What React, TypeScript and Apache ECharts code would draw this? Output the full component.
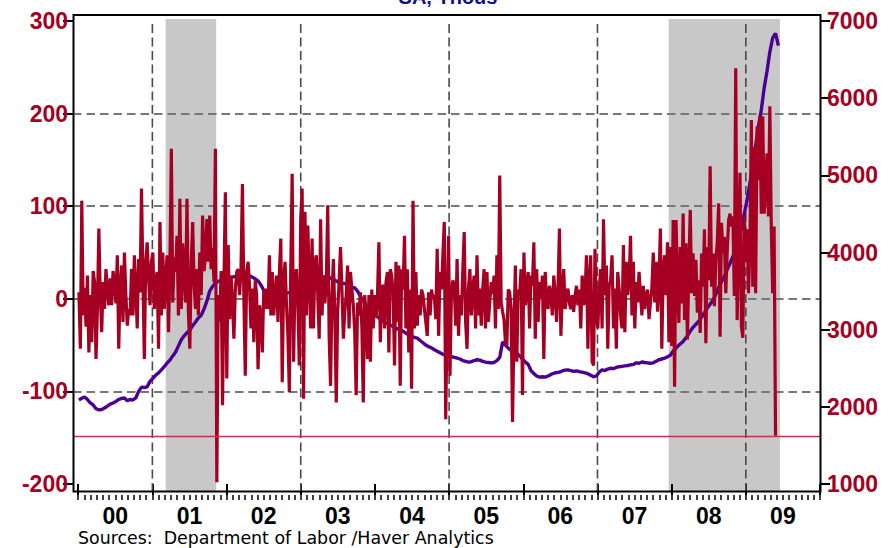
import React, { useEffect, useRef } from 'react';
import * as echarts from 'echarts';

// ---------- texts ----------
const chartTitle = 'SA, Thous';
const sourceNote = 'Sources:  Department of Labor /Haver Analytics';
const yearLabels = ['00', '01', '02', '03', '04', '05', '06', '07', '08', '09'];

// ---------- time frame ----------
const xMin = 1999.93;
const xMax = 2010;
const firstWeek = 2000.01;
const weeksPerYear = 52.18;
const continuingStepWeeks = 2;
const monthsShown = 120;

// ---------- axes ----------
const leftMin = -200;
const leftMax = 300;
const leftStep = 100;
const rightMin = 1000;
const rightMax = 7000;
const rightStep = 1000;

// ---------- markers ----------
const recessions = [
  [2001.18, 2001.86],
  [2007.96, 2009.46],
];
const dividerYears = [2001, 2003, 2005, 2007, 2009];
const latestChange = -148;

// ---------- weekly change, thous (left axis) ----------
const change2000 = [7, -54, 106, -18, 12, -30, 25, -58, 4, -47, 30, 18, -65, -11, 76, 5, -36, 18, -11, 32, 10, -7, 22, -7, 30, 18, -5, 47, -54, 14, 36, -25, 50, 5, -29, -11, -18, 32, -18, 47, 10, -32, 43, 7, 119, 25, -65, 40, 61, 22, -7, 40];
const change2001 = [50, -11, 20, 29, -54, 83, -18, 50, -11, 20, 47, -36, 36, 162, -4, 45, 29, 68, -18, 108, -11, 60, 25, -4, 108, -14, -54, 40, 83, 15, -11, 32, -18, 50, 4, 90, 30, 47, 86, 40, 90, 32, 55, 18, 162, -198, 4, -25, 30, -115, 18, 115];
const change2002 = [-86, 58, -22, 25, -4, -43, 10, 29, 32, 4, 32, 124, 4, -83, 29, 40, 14, -32, 11, -47, 20, 4, -76, -7, -18, -58, 10, -11, 11, -11, 47, -18, 29, -18, 5, 25, -25, 29, 65, -90, 20, 40, -7, -40, -101, 32, 135, -68, 20, 32, -7, -72];
const change2003 = [86, 119, -108, 94, -18, 79, 20, -32, 65, -32, 40, 47, 5, -43, 86, -18, 25, -5, 18, 101, -40, -94, 4, 43, -18, -112, -14, 18, 56, 10, -43, -14, 4, 36, -32, 29, 10, -7, -36, -104, -4, -18, 7, -30, -112, 4, -18, -65, 4, -68, 10, -32];
const change2004 = [4, -20, 4, 61, -47, 11, 15, -32, 18, 29, -58, 32, 25, 5, -72, 40, -25, 36, -94, 32, 10, 68, -32, 32, -58, 10, -97, 106, -32, 29, -29, 4, -18, 10, 4, -11, -25, -40, 7, -18, 10, 0, 4, -22, 54, -40, 29, 10, 47, 83, -130, -18];
const change2005 = [68, -83, 4, 20, 14, -29, 43, -40, 4, -18, 30, 72, -25, -54, 11, 32, -18, 10, 25, -32, 47, -18, 11, -29, 10, 32, -32, 29, -25, -4, 18, 5, 25, -32, 47, -11, 133, -4, -14, -22, -47, -50, 10, 7, -11, -133, -32, 36, -68, 10, 4, 32];
const change2006 = [-104, 50, -7, 10, 29, -32, 25, 14, 61, -43, 32, -25, 18, 0, 25, -65, 29, -4, -11, 14, 5, -18, 25, 7, -25, 10, 76, -40, 4, 32, -11, 4, 11, -5, -11, 4, -14, 4, 14, -7, 10, -32, 25, -7, 4, 47, -54, 20, 47, -68, -72, 54];
const change2007 = [-18, -32, 10, 32, -32, 86, 4, 36, -54, 14, 20, 47, -32, 11, -54, 29, 10, -18, -32, 58, -36, 40, 4, 20, 68, -18, 40, -32, 18, -4, 29, 5, -18, 14, -11, 4, 10, -22, -4, 11, 50, -4, 40, -14, 20, 76, -54, 32, 47, 4, 61, -47];
const change2008 = [56, -51, 85, -95, 85, 20, -26, 56, -5, 92, -23, 60, -44, 30, 96, 6, 49, 3, 42, -15, 20, -37, 49, 13, 75, -48, 56, 20, 143, 13, 49, -8, 42, 60, 103, -41, 82, 49, 67, 6, 50, 85, 92, 78, 89, 3, 249, -23, 60, 136, -30, -42];
const change2009 = [89, 40, 75, 6, 60, 193, 13, 164, 6, 186, 128, 197, 92, 197, 92, 120, 157, 89, 208, 78, 6, 78, -148];

// ---------- continuing claims level, thous (right axis), every 2 weeks ----------
const level2000 = [2090, 2110, 2128, 2095, 2050, 2024, 1975, 1960, 1965, 1985, 2010, 2035, 2050, 2070, 2095, 2110, 2115, 2080, 2095, 2089, 2115, 2200, 2255, 2250, 2260, 2330];
const level2001 = [2370, 2410, 2440, 2480, 2520, 2568, 2605, 2660, 2710, 2790, 2870, 2920, 2960, 2995, 3050, 3100, 3150, 3185, 3270, 3370, 3500, 3560, 3605, 3625, 3640, 3650];
const level2002 = [3660, 3670, 3680, 3690, 3700, 3705, 3715, 3710, 3700, 3680, 3660, 3630, 3580, 3510, 3470, 3460, 3465, 3470, 3460, 3450, 3460, 3475, 3480, 3470, 3490, 3500];
const level2003 = [3510, 3520, 3540, 3560, 3590, 3610, 3640, 3660, 3680, 3690, 3680, 3660, 3640, 3620, 3605, 3600, 3590, 3570, 3550, 3540, 3500, 3430, 3370, 3310, 3270, 3230];
const level2004 = [3200, 3165, 3140, 3110, 3090, 3070, 3050, 3030, 3010, 2996, 2980, 2955, 2935, 2915, 2900, 2890, 2860, 2830, 2800, 2780, 2765, 2740, 2720, 2700, 2680, 2670];
const level2005 = [2660, 2650, 2640, 2633, 2620, 2600, 2590, 2580, 2585, 2600, 2610, 2605, 2590, 2580, 2575, 2570, 2575, 2600, 2640, 2840, 2800, 2760, 2730, 2700, 2690, 2660];
const level2006 = [2620, 2580, 2550, 2470, 2430, 2400, 2385, 2390, 2385, 2400, 2420, 2435, 2445, 2450, 2465, 2475, 2478, 2470, 2460, 2465, 2455, 2450, 2440, 2430, 2410, 2390];
const level2007 = [2400, 2450, 2480, 2470, 2490, 2500, 2495, 2510, 2520, 2525, 2530, 2535, 2545, 2550, 2570, 2565, 2581, 2575, 2570, 2565, 2570, 2590, 2610, 2620, 2630, 2650];
const level2008 = [2670, 2720, 2760, 2800, 2830, 2870, 2920, 2980, 3030, 3070, 3110, 3160, 3220, 3280, 3330, 3385, 3460, 3550, 3620, 3690, 3780, 3860, 3950, 4050, 4170, 4320];
const level2009 = [4500, 4680, 4900, 5120, 5380, 5640, 5850, 6130, 6350, 6600, 6780, 6840, 6680];

const weeklyChange = [
  ...change2000, ...change2001, ...change2002, ...change2003, ...change2004,
  ...change2005, ...change2006, ...change2007, ...change2008, ...change2009,
];
const continuingLevel = [
  ...level2000, ...level2001, ...level2002, ...level2003, ...level2004,
  ...level2005, ...level2006, ...level2007, ...level2008, ...level2009,
];

const RED = '#a50021';
const PURPLE = '#4b0092';
const AXIS_FONT = 'Liberation Sans';

export default function App() {
  const ref = useRef<HTMLDivElement>(null);

  useEffect(() => {
    if (!ref.current) return;
    const chart = echarts.init(ref.current, null, { renderer: 'svg' });

    const changeData = weeklyChange.map((v, i) => [firstWeek + i / weeksPerYear, v]);
    const levelData = continuingLevel.map((v, k) => [
      firstWeek + (k * continuingStepWeeks) / weeksPerYear,
      v,
    ]);

    const yLabel = {
      color: RED,
      fontSize: 23,
      fontWeight: 'bold',
      fontFamily: AXIS_FONT,
      formatter: (v: number) => String(v),
    };

    const option: any = {
      animation: false,
      backgroundColor: '#ffffff',
      textStyle: { fontFamily: AXIS_FONT },
      grid: [
        { left: 73, right: 75, top: 21, bottom: 64 },
        { left: 78.2, right: 75, top: 21, bottom: 64 },
      ],
      xAxis: [
        { type: 'value', gridIndex: 0, min: xMin, max: xMax, show: false },
        {
          type: 'category',
          gridIndex: 1,
          data: yearLabels,
          boundaryGap: true,
          position: 'bottom',
          offset: 11,
          axisLine: { show: false },
          axisTick: { show: true, interval: 0, length: 11, lineStyle: { color: '#000', width: 2 } },
          axisLabel: {
            interval: 0,
            margin: 9,
            color: '#000',
            fontSize: 23,
            fontWeight: 'bold',
            fontFamily: AXIS_FONT,
          },
          splitLine: { show: false },
        },
        {
          type: 'value',
          gridIndex: 1,
          min: 0,
          max: monthsShown,
          interval: 1,
          position: 'bottom',
          offset: 11,
          axisLine: { show: false },
          axisTick: { show: true, length: 5, lineStyle: { color: '#000', width: 1.5 } },
          axisLabel: { show: false },
          splitLine: { show: false },
        },
      ],
      yAxis: [
        {
          type: 'value',
          gridIndex: 0,
          min: leftMin,
          max: leftMax,
          interval: leftStep,
          position: 'left',
          axisLine: { show: false },
          axisTick: { show: true, length: 10, lineStyle: { color: '#000', width: 2 } },
          axisLabel: { ...yLabel, margin: 5 },
          splitLine: {
            show: true,
            showMinLine: false,
            showMaxLine: false,
            lineStyle: { color: '#777777', width: 2, type: [8.5, 5] },
          },
        },
        {
          type: 'value',
          gridIndex: 0,
          min: rightMin,
          max: rightMax,
          interval: rightStep,
          position: 'right',
          axisLine: { show: false },
          axisTick: { show: true, length: 10, lineStyle: { color: '#000', width: 2 } },
          axisLabel: { ...yLabel, margin: 7 },
          splitLine: { show: false },
        },
        { type: 'value', gridIndex: 1, min: 0, max: 1, show: false },
      ],
      series: [
        {
          name: 'Continuing claims',
          type: 'line',
          xAxisIndex: 0,
          yAxisIndex: 1,
          data: levelData,
          showSymbol: false,
          symbol: 'none',
          silent: true,
          lineStyle: { color: PURPLE, width: 3.4 },
          z: 2,
        },
        {
          name: 'Weekly change',
          type: 'line',
          xAxisIndex: 0,
          yAxisIndex: 0,
          data: changeData,
          showSymbol: false,
          symbol: 'none',
          silent: true,
          lineStyle: { color: RED, width: 3.2 },
          z: 3,
          markLine: {
            silent: true,
            symbol: ['none', 'none'],
            label: { show: false },
            lineStyle: { color: '#c2334f', width: 1.3, type: 'solid' },
            data: [{ yAxis: latestChange }],
          },
        },
      ],
    };

    chart.setOption(option);

    const px = (v: number) => chart.convertToPixel({ xAxisIndex: 0 }, v) as number;
    const graphics: any[] = [];
    recessions.forEach(([a, b]) => {
      const x0 = px(a);
      const x1 = px(b);
      graphics.push({
        type: 'rect',
        z: -1,
        silent: true,
        shape: { x: x0, y: 19, width: x1 - x0, height: 491 - 19 },
        style: { fill: '#c8c8c8' },
      });
    });
    dividerYears.forEach((yr) => {
      const x = px(yr);
      graphics.push({
        type: 'line',
        z: 1,
        silent: true,
        shape: { x1: x, y1: 24, x2: x, y2: 491 },
        style: { stroke: '#4a4a4a', lineWidth: 1.6, lineDash: [9, 4.5] },
      });
    });
    graphics.push({
      type: 'rect',
      z: 10,
      silent: true,
      shape: { x: 73.5, y: 15, width: 747, height: 476.5 },
      style: { fill: 'none', stroke: '#000', lineWidth: 2 },
    });
    graphics.push({
      type: 'text',
      z: 10,
      silent: true,
      x: 448,
      y: -3.4,
      style: {
        text: chartTitle,
        fill: '#10108c',
        fontSize: 20,
        fontWeight: 'bold',
        fontFamily: AXIS_FONT,
        align: 'center',
        verticalAlign: 'middle',
      },
    });
    graphics.push({
      type: 'text',
      z: 10,
      silent: true,
      x: 78,
      y: 538,
      style: {
        text: sourceNote,
        fill: '#000',
        fontSize: 17.4,
        fontFamily: 'DejaVu Sans',
        align: 'left',
        verticalAlign: 'middle',
      },
    });
    chart.setOption({ graphic: graphics });

    return () => chart.dispose();
  }, []);

  return (
    <div
      ref={ref}
      style={{ position: 'fixed', left: 0, top: 0, width: 895, height: 548, background: '#fff' }}
    />
  );
}
